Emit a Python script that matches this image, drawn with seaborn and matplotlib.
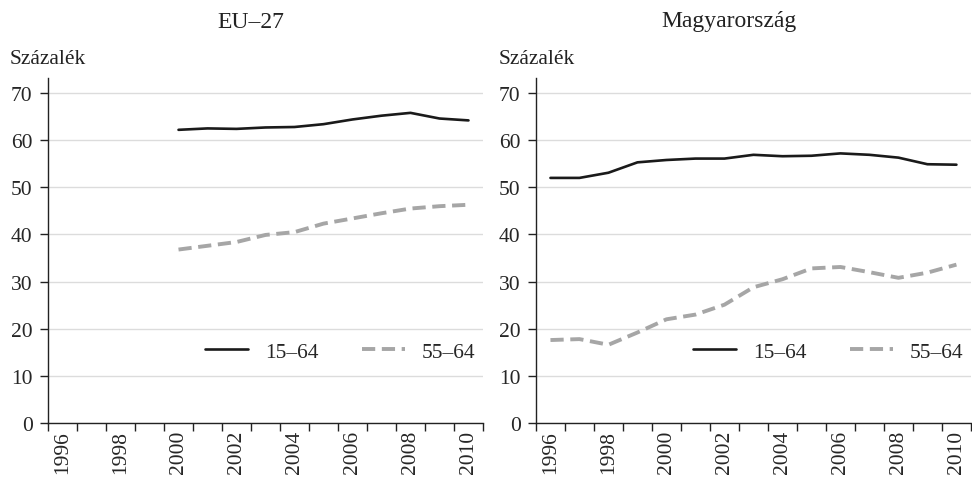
import numpy as np
import pandas as pd
import matplotlib
matplotlib.use('Agg')
import matplotlib.pyplot as plt
import seaborn as sns

sns.set_theme(style="white")
plt.rcParams['font.family'] = ['Liberation Serif', 'DejaVu Serif']

# data
years_eu = [2000, 2001, 2002, 2003, 2004, 2005, 2006, 2007, 2008, 2009, 2010]
eu_15_64 = [62.2, 62.5, 62.4, 62.7, 62.8, 63.4, 64.4, 65.2, 65.8, 64.6, 64.2]
eu_55_64 = [36.8, 37.6, 38.4, 39.9, 40.5, 42.3, 43.4, 44.5, 45.5, 46.0, 46.3]

years_hu = list(range(1996, 2011))
hu_15_64 = [52.0, 52.0, 53.1, 55.3, 55.8, 56.1, 56.1, 56.9, 56.6, 56.7, 57.2, 56.9, 56.3, 54.9, 54.8]
hu_55_64 = [17.6, 17.8, 16.6, 19.2, 22.0, 23.0, 25.1, 28.8, 30.5, 32.8, 33.1, 32.0, 30.8, 31.9, 33.6]

titles = ['EU–27', 'Magyarország']
series_labels = ['15–64', '55–64']
year_labels = list(range(1996, 2011, 2))

panels = [(years_eu, eu_15_64, eu_55_64), (years_hu, hu_15_64, hu_55_64)]

fig = plt.figure(figsize=(9.72, 4.81), dpi=100)
axes = [fig.add_axes([0.0494, 0.1185, 0.4475, 0.7173]),
        fig.add_axes([0.5514, 0.1185, 0.4475, 0.7173])]

FS = 15.5
for ax, (yrs, a, b), title, tx in zip(axes, panels, titles, [251, 729]):
    df = pd.DataFrame({'year': yrs, series_labels[0]: a, series_labels[1]: b})
    sns.lineplot(data=df, x='year', y=series_labels[0], ax=ax, color='#1a1a1a',
                 lw=1.9, label=series_labels[0])
    sns.lineplot(data=df, x='year', y=series_labels[1], ax=ax, color='#a6a6a6',
                 lw=2.8, dashes=(3.4, 1.7), label=series_labels[1])

    ax.set_xlim(1995.5, 2010.5)
    ax.set_ylim(0, 73.2)
    ax.set_yticks(range(0, 71, 10))
    ax.yaxis.grid(True, color='#dcdcdc', lw=1.0)
    ax.set_axisbelow(True)
    ax.set_xticks(np.arange(1995.5, 2011, 1.0))
    ax.set_xticklabels([])
    ax.set_xticks(year_labels, minor=True)
    ax.set_xticklabels([str(y) for y in year_labels], minor=True, rotation=90, fontsize=FS)
    ax.tick_params(axis='x', which='major', direction='out', length=6, width=1, color='#222222', bottom=True)
    ax.tick_params(axis='x', which='minor', length=0, pad=5)
    ax.tick_params(axis='y', direction='out', length=6, width=1, color='#222222', left=True,
                   labelsize=FS, pad=5)
    for s in ['top', 'right']:
        ax.spines[s].set_visible(False)
    for s in ['left', 'bottom']:
        ax.spines[s].set_color('#222222')
        ax.spines[s].set_linewidth(1.0)
    ax.set_xlabel('')
    ax.set_ylabel('')
    ax.legend(loc='center', bbox_to_anchor=(0.672, 0.206), ncol=2, frameon=False,
              fontsize=FS, handlelength=2.0, handletextpad=0.8, columnspacing=2.0)
    fig.text(tx / 972, 1 - 22 / 481, title, ha='center', va='center', fontsize=17, color='#222222')

fig.text(10 / 972, 1 - 60 / 481, 'Százalék', ha='left', va='center', fontsize=FS, color='#222222')
fig.text(499 / 972, 1 - 60 / 481, 'Százalék', ha='left', va='center', fontsize=FS, color='#222222')

fig.savefig('out.png', dpi=100)
